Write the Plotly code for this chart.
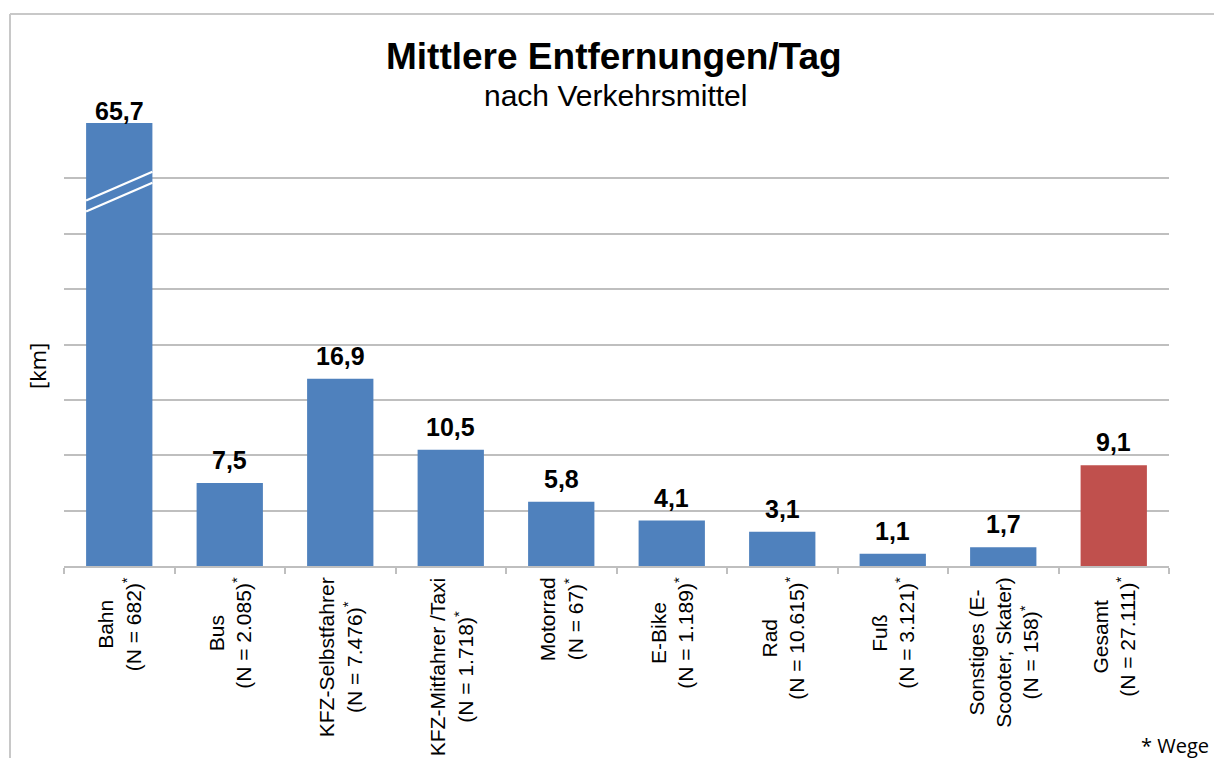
import plotly.graph_objects as go

# ---------------- data ----------------
categories = ["Bahn", "Bus", "KFZ-Selbstfahrer", "KFZ-Mitfahrer /Taxi", "Motorrad",
              "E-Bike", "Rad", "Fuß", "Sonstiges (E-<br>Scooter, Skater)", "Gesamt"]
sample_sizes = ["682", "2.085", "7.476", "1.718", "67", "1.189", "10.615", "3.121", "158", "27.111"]
values = [65.7, 7.5, 16.9, 10.5, 5.8, 4.1, 3.1, 1.1, 1.7, 9.1]
bar_colors = ["#4F81BD"] * 9 + ["#C0504D"]

title_text = "Mittlere Entfernungen/Tag"
subtitle_text = "nach Verkehrsmittel"
y_title = "[km]"
footnote = "* Wege"

# ---------------- layout geometry ----------------
W, H = 1214, 758
PLOT_L, PLOT_R, PLOT_T, PLOT_B = 64, 1169, 123, 566   # target pixels
ML, MR, MT, MB = PLOT_L, W - PLOT_R, PLOT_T, H - PLOT_B
Y_MAX = 40          # axis is cut at 40 km, taller bars are drawn broken
Y_STEP = 5
BAR_W = 0.6
PLOT_W = PLOT_R - PLOT_L
PLOT_H = PLOT_B - PLOT_T


def px_x(px):
    return (px - PLOT_L) / PLOT_W


def px_y(py):
    return (PLOT_B - py) / PLOT_H


n = len(values)
xs = list(range(n))
display_vals = [min(v, Y_MAX) for v in values]
value_text = [f"{v:.1f}".replace(".", ",") for v in values]

fig = go.Figure()
fig.add_trace(go.Bar(
    x=xs, y=display_vals, width=BAR_W,
    marker=dict(color=bar_colors, line=dict(width=0)),
    hoverinfo="skip", cliponaxis=False,
))

annotations = []
# value labels
for i, (v, dv, t) in enumerate(zip(values, display_vals, value_text)):
    annotations.append(dict(
        x=i, y=dv, xref="x", yref="y", text=f"<b>{t}</b>", showarrow=False,
        yanchor="bottom", xanchor="center", yshift=(-4 if v > Y_MAX else 7),
        font=dict(family="Liberation Sans, Arial", size=25, color="#000000"),
    ))
# category labels
for i, (c, s) in enumerate(zip(categories, sample_sizes)):
    annotations.append(dict(
        x=i, y=px_y(575), xref="x", yref="paper",
        text=f"{c}<br>(N = {s})<sup>*</sup>", showarrow=False,
        textangle=-90, align="center", xanchor="center", yanchor="top",
        font=dict(family="Liberation Sans, Arial", size=21, color="#000000"),
    ))
# titles
annotations.append(dict(
    x=px_x(614), y=px_y(56), xref="paper", yref="paper", text=f"<b>{title_text}</b>",
    showarrow=False, xanchor="center", yanchor="middle",
    font=dict(family="Liberation Sans, Arial", size=37, color="#000000"),
))
annotations.append(dict(
    x=px_x(615), y=px_y(95), xref="paper", yref="paper", text=subtitle_text,
    showarrow=False, xanchor="center", yanchor="middle",
    font=dict(family="Liberation Sans, Arial", size=30, color="#000000"),
))
annotations.append(dict(
    x=px_x(37), y=px_y(366), xref="paper", yref="paper", text=y_title,
    showarrow=False, textangle=-90, xanchor="center", yanchor="middle",
    font=dict(family="Open Sans", size=22, color="#000000"),
))
annotations.append(dict(
    x=px_x(1211), y=px_y(745), xref="paper", yref="paper", text=footnote,
    showarrow=False, xanchor="right", yanchor="middle",
    font=dict(family="Open Sans", size=20, color="#000000"),
))

shapes = []
# chart border (top and left edges visible)
border = dict(color="#C8C8C8", width=2)
shapes.append(dict(type="line", xref="paper", yref="paper",
                   x0=px_x(10), x1=px_x(W + 5), y0=px_y(14), y1=px_y(14), line=border))
shapes.append(dict(type="line", xref="paper", yref="paper",
                   x0=px_x(10), x1=px_x(10), y0=px_y(14), y1=px_y(H + 5), line=border))
# break marks on bars exceeding the axis maximum
for i, v in enumerate(values):
    if v > Y_MAX:
        for lo, hi in [(0.80, 0.865), (0.825, 0.89)]:
            shapes.append(dict(type="line", xref="x", yref="y",
                               x0=i - BAR_W / 2, x1=i + BAR_W / 2,
                               y0=Y_MAX * lo, y1=Y_MAX * hi,
                               line=dict(color="#FFFFFF", width=2.2)))

fig.update_layout(
    width=W, height=H,
    margin=dict(l=ML, r=MR, t=MT, b=MB, pad=0),
    paper_bgcolor="#FFFFFF", plot_bgcolor="#FFFFFF",
    showlegend=False,
    annotations=annotations, shapes=shapes,
    xaxis=dict(
        range=[-0.5, n - 0.5], showgrid=False, zeroline=False,
        showline=True, linecolor="#BFBFBF", linewidth=2,
        tickmode="array", tickvals=[k - 0.5 for k in range(n + 1)],
        ticks="outside", ticklen=6, tickwidth=2, tickcolor="#BFBFBF",
        showticklabels=False, fixedrange=True,
    ),
    yaxis=dict(
        range=[0, Y_MAX], dtick=Y_STEP, showgrid=True, gridcolor="#BFBFBF", gridwidth=2,
        zeroline=False, showline=False, showticklabels=False, ticks="", fixedrange=True,
    ),
)

fig.write_html(
    "out.html",
    config={"displayModeBar": False, "staticPlot": True},
    post_script="document.body.style.margin='0';document.body.style.overflow='hidden';",
)
